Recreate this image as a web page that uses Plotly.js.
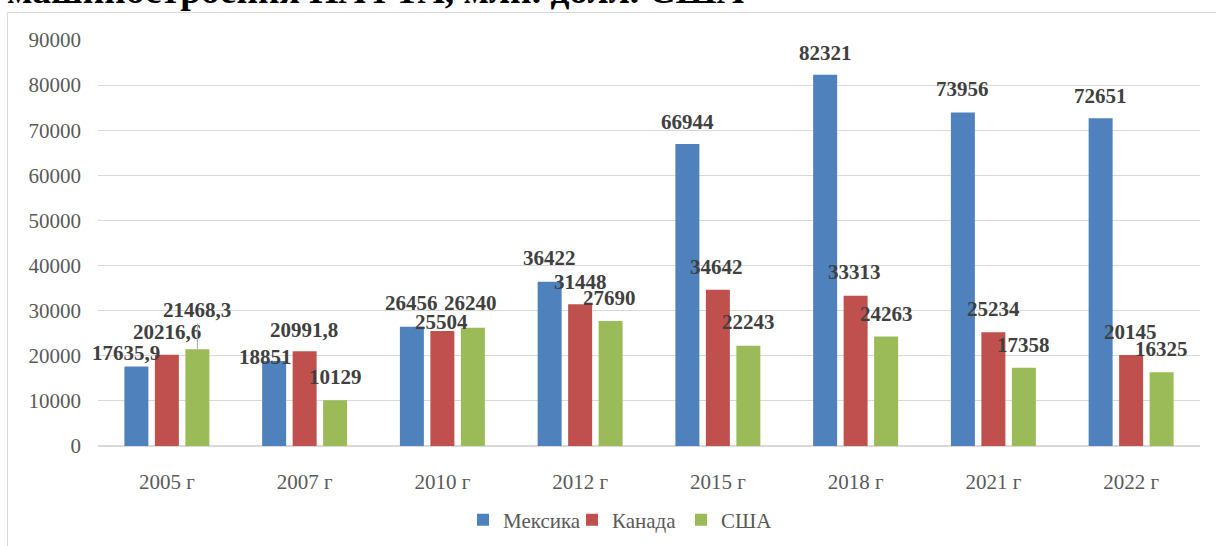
<!DOCTYPE html>
<html>
<head>
<meta charset="utf-8">
<script src="https://cdn.plot.ly/plotly-3.0.1.min.js"></script>
<style>
html,body{margin:0;padding:0;background:#fff;}
#chart{width:1216px;height:546px;}
</style>
</head>
<body>
<div id="chart"></div>
<script>
// ---- data ----
const categories = ['2005 г', '2007 г', '2010 г', '2012 г', '2015 г', '2018 г', '2021 г', '2022 г'];
const mexico = [17635.9, 18851, 26456, 36422, 66944, 82321, 73956, 72651];
const canada = [20216.6, 20991.8, 25504, 31448, 34642, 33313, 25234, 20145];
const usa    = [21468.3, 10129, 26240, 27690, 22243, 24263, 17358, 16325];
const seriesNames = ['Мексика', 'Канада', 'США'];
const titleText = 'машиностроения НАФТА, млн. долл. США';

// ---- label placement (pixel offsets of label centre from bar top) ----
const labelDx = [
  [-10, -9, 0, 0, 0, 0, 0, 0],
  [0, -1, -1, 0, -1, -1, 0, -1],
  [0, 0, -2, -1, 0, 0, 0, 0]
];
const labelDy = [
  [-13, -4, -24, -24, -22, -22, -23, -22],
  [-23, -21, -9, -22, -23, -24, -23, -23],
  [-39, -23, -25, -23, -24, -23, -23, -23]
];
const leader = [[], [], [0]]; // indices with a leader line

const colors = ['#4f81bd', '#c0504d', '#9bbb59'];
const allSeries = [mexico, canada, usa];
const serif = 'Liberation Serif, Times New Roman, serif';

const W = 1216, H = 546;
const mL = 98, mR = 16, mT = 40, mB = 100;
const plotW = W - mL - mR, plotH = H - mT - mB;
const bargap = 0.336, bargroupgap = 0.213;
const slot = (plotW / categories.length) * (1 - bargap) / 3;

const fmt = v => String(v).replace('.', ',');

const traces = allSeries.map((vals, s) => ({
  type: 'bar',
  name: seriesNames[s],
  x: categories,
  y: vals,
  marker: {color: colors[s], line: {width: 0}},
  hoverinfo: 'skip'
}));

const annotations = [];
allSeries.forEach((vals, s) => {
  vals.forEach((v, i) => {
    const hasLeader = leader[s].includes(i);
    annotations.push({
      x: categories[i], y: v, xref: 'x', yref: 'y',
      xshift: (s - 1) * slot,
      text: '<b>' + fmt(v) + '</b>',
      showarrow: true,
      arrowhead: 0, arrowwidth: 1,
      arrowcolor: hasLeader ? '#a6a6a6' : 'rgba(0,0,0,0)',
      ax: labelDx[s][i], ay: labelDy[s][i],
      standoff: 0,
      font: {family: serif, size: 21, color: '#404040'}
    });
  });
});

// title (cut at top in reference)
annotations.push({
  xref: 'paper', yref: 'paper',
  x: (5 - mL) / plotW, y: (mT + plotH - 13.5) / plotH,
  xanchor: 'left', yanchor: 'bottom',
  text: '<b>' + titleText + '</b>',
  showarrow: false,
  font: {family: serif, size: 37.5, color: '#000'}
});

const layout = {
  width: W, height: H,
  margin: {l: mL, r: mR, t: mT, b: mB, pad: 0, autoexpand: false},
  paper_bgcolor: '#fff', plot_bgcolor: '#fff',
  barmode: 'group', bargap: bargap, bargroupgap: bargroupgap,
  showlegend: true,
  legend: {
    orientation: 'h', x: (463 - mL) / plotW, xanchor: 'left',
    y: (mT + plotH - 520) / plotH, yanchor: 'middle',
    font: {family: serif, size: 21, color: '#595959'},
    itemwidth: 30, entrywidth: 64, tracegroupgap: 0, bgcolor: 'rgba(0,0,0,0)'
  },
  xaxis: {
    type: 'category', range: [-0.5, categories.length - 0.5], autorange: false,
    showgrid: false, showline: false, ticks: '', automargin: false,
    tickfont: {family: serif, size: 21, color: '#595959'},
    ticklabelstandoff: 21, fixedrange: true
  },
  yaxis: {
    range: [0, 90000], autorange: false, dtick: 10000, tickformat: 'd',
    showgrid: true, gridcolor: '#d9d9d9', gridwidth: 1, automargin: false,
    zeroline: true, zerolinecolor: '#d9d9d9', zerolinewidth: 1.5,
    showline: false, ticks: '',
    tickfont: {family: serif, size: 21, color: '#595959'},
    ticklabelstandoff: 16, fixedrange: true
  },
  shapes: [{
    type: 'rect', xref: 'paper', yref: 'paper', layer: 'below',
    x0: (7.5 - mL) / plotW, x1: 1.2,
    y0: (mT + plotH - 12.5) / plotH, y1: -0.5,
    line: {color: '#d9d9d9', width: 1}, fillcolor: 'rgba(0,0,0,0)'
  }],
  annotations: annotations
};

Plotly.newPlot('chart', traces, layout, {staticPlot: true, displayModeBar: false});
</script>
</body>
</html>
